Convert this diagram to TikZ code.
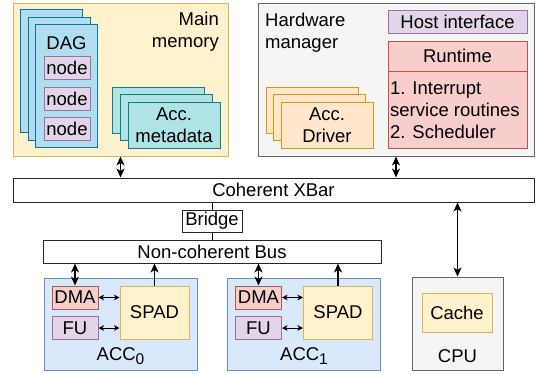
\documentclass[tikz,border=0pt]{standalone}
\usepackage{fontspec}
\setmainfont{Liberation Sans}
\usepackage{tikz}
\usetikzlibrary{arrows.meta, positioning, calc}
\usepackage{xcolor}
\definecolor{memfill}{HTML}{FFF2CC}
\definecolor{memdraw}{HTML}{D6B656}
\definecolor{dagfill}{HTML}{B1DDF0}
\definecolor{dagdraw}{HTML}{10739E}
\definecolor{purfill}{HTML}{E1D5E7}
\definecolor{purdraw}{HTML}{9673A6}
\definecolor{metafill}{HTML}{B0E3E6}
\definecolor{metadraw}{HTML}{0E8088}
\definecolor{hwfill}{HTML}{F5F5F5}
\definecolor{hwdraw}{HTML}{666666}
\definecolor{rtfill}{HTML}{F8CECC}
\definecolor{rtdraw}{HTML}{B85450}
\definecolor{drvfill}{HTML}{FFE6CC}
\definecolor{drvdraw}{HTML}{D79B00}
\definecolor{accfill}{HTML}{DAE8FC}
\definecolor{accdraw}{HTML}{6C8EBF}

\newcommand{\accsub}[1]{\raisebox{-4.5pt}{\fontsize{15.5}{16}\selectfont #1}}

\tikzset{
  box/.style={draw, line width=1pt, inner sep=0pt, align=center},
  membox/.style={box, fill=memfill, draw=memdraw},
  dagbox/.style={box, fill=dagfill, draw=dagdraw, minimum width=62pt, minimum height=123pt},
  itembox/.style={box, fill=purfill, draw=purdraw},
  metabox/.style={box, fill=metafill, draw=metadraw, minimum width=92pt, minimum height=46pt},
  hwbox/.style={box, fill=hwfill, draw=hwdraw},
  rtbox/.style={box, fill=rtfill, draw=rtdraw, minimum width=139pt},
  drvbox/.style={box, fill=drvfill, draw=drvdraw, minimum width=92pt, minimum height=46pt},
  busbox/.style={box, fill=white, draw=black!85},
  accbox/.style={box, fill=accfill, draw=accdraw, minimum width=153pt, minimum height=92pt},
  dmabox/.style={box, fill=rtfill, draw=rtdraw, minimum width=46pt, minimum height=23pt},
  fubox/.style={box, fill=purfill, draw=purdraw, minimum width=46pt, minimum height=23pt},
  spadbox/.style={box, fill=memfill, draw=memdraw, minimum width=69pt, minimum height=53pt},
  label/.style={inner sep=0pt},
  bigarrow/.style={line width=1.2pt, {Stealth[length=9pt,width=8pt,inset=2.5pt]}-{Stealth[length=9pt,width=8pt,inset=2.5pt]}},
  uparrow/.style={line width=1.2pt, -{Stealth[length=9pt,width=8pt,inset=2.5pt]}},
  smallarrow/.style={line width=0.9pt, {Stealth[length=5.5pt,width=5.5pt,inset=1.5pt]}-{Stealth[length=5.5pt,width=5.5pt,inset=1.5pt]}}
}

\begin{document}
\begin{tikzpicture}[x=1pt, y=-1pt, font=\fontsize{18.5}{22}\selectfont]
    \useasboundingbox (0,0) rectangle (536,373);

    \node[membox, minimum width=215pt, minimum height=153pt] (mem) at (120.5,79.5) {};
    \node[label, anchor=north east, align=right] (memlabel) at (219,12) {Main\\memory};
    \node[dagbox] (dag1) at (51.5,71) {};
    \node[dagbox] (dag2) at (59,78.5) {};
    \node[dagbox] (dag3) at (66.5,86) {};
    \node[label, anchor=base] (daglabel) at (66.5,49) {DAG};
    \node[itembox, minimum width=46pt, minimum height=23pt] (node1) at (67,67.5) {node};
    \node[itembox, minimum width=46pt, minimum height=23pt] (node2) at (67,98.5) {node};
    \node[itembox, minimum width=46pt, minimum height=23pt] (node3) at (67,128.5) {node};
    \node[metabox] (meta1) at (158.5,110) {};
    \node[metabox] (meta2) at (166,117.5) {};
    \node[metabox] (meta3) at (174,125) {Acc.\\metadata};

    \node[hwbox, minimum width=276pt, minimum height=153pt] (hw) at (396,79.5) {};
    \node[label, anchor=north west, align=left] (hwlabel) at (265,13) {Hardware\\manager};
    \node[itembox, minimum width=139pt, minimum height=23pt] (host) at (457.5,21.5) {Host interface};
    \node[rtbox, minimum height=30pt] (runtime) at (457.5,56) {Runtime};
    \node[rtbox, minimum height=77pt] (rtbody) at (457.5,109.5) {};
    \node[label, anchor=north west, align=left] (rtlist) at (390,82)
      {1. Interrupt\\service routines\\2. Scheduler};
    \node[drvbox] (drv1) at (312,110) {};
    \node[drvbox] (drv2) at (319.5,117.5) {};
    \node[drvbox] (drv3) at (327,125) {Acc.\\Driver};

    \node[busbox, minimum width=521pt, minimum height=24pt] (xbar) at (273.5,190) {Coherent XBar};
    \node[busbox, minimum width=60pt, minimum height=22pt] (bridge) at (212,221) {Bridge};
    \node[busbox, minimum width=338pt, minimum height=23pt] (bus) at (212,251.5) {Non-coherent Bus};

    \node[accbox] (acc0) at (120.5,324) {};
    \node[dmabox] (dma0) at (75,297.5) {DMA};
    \node[fubox] (fu0) at (75,328) {FU};
    \node[spadbox] (spad0) at (154.5,312.5) {SPAD};
    \node[label, anchor=base] (acc0label) at (120.5,360) {ACC\accsub{0}};

    \node[accbox] (acc1) at (304,324) {};
    \node[dmabox] (dma1) at (258.5,297.5) {DMA};
    \node[fubox] (fu1) at (258.5,328) {FU};
    \node[spadbox] (spad1) at (338,312.5) {SPAD};
    \node[label, anchor=base] (acc1label) at (304,360) {ACC\accsub{1}};

    \node[hwbox, minimum width=91pt, minimum height=93pt] (cpu) at (457.5,323.5) {};
    \node[box, fill=memfill, draw=memdraw, minimum width=70pt, minimum height=39pt] (cache) at (457,312.5) {Cache};
    \node[label, anchor=base] (cpulabel) at (457.5,362) {CPU};

    \draw[bigarrow] (mem.south) -- (mem.south |- xbar.north);
    \draw[bigarrow] (hw.south) -- (hw.south |- xbar.north);
    \draw[bigarrow] (xbar.south -| cpu.north) -- (cpu.north);
    \draw[line width=1pt] (bridge.north) -- (bridge.north |- xbar.south);
    \draw[line width=1pt] (bridge.south) -- (bridge.south |- bus.north);

    \draw[bigarrow] (dma0.north) -- (dma0.north |- bus.south);
    \draw[uparrow] (spad0.north) -- (spad0.north |- bus.south);
    \draw[smallarrow] (dma0.east) -- (dma0.east -| spad0.west);
    \draw[smallarrow] (fu0.east) -- (fu0.east -| spad0.west);

    \draw[bigarrow] (dma1.north) -- (dma1.north |- bus.south);
    \draw[uparrow] (spad1.north) -- (spad1.north |- bus.south);
    \draw[smallarrow] (dma1.east) -- (dma1.east -| spad1.west);
    \draw[smallarrow] (fu1.east) -- (fu1.east -| spad1.west);
  \end{tikzpicture}
\end{document}
